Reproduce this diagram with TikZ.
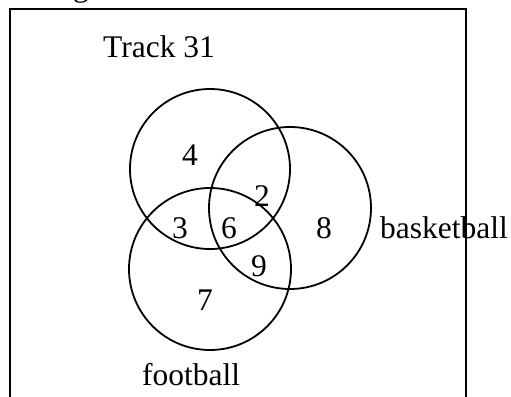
\documentclass[tikz,border=0pt]{standalone}
\usepackage{fontspec}
\setmainfont{Liberation Serif}
\begin{document}
\begin{tikzpicture}[x=1pt,y=-1pt,
  setcircle/.style={draw=black,line width=1.8pt},
  lbl/.style={font=\fontsize{31.5}{35}\selectfont,inner sep=0pt}]
\clip (0,0) rectangle (511,396);
\useasboundingbox (0,0) rectangle (511,396);
\fill[white] (0,0) rectangle (511,396);
\node[lbl,anchor=base] (topfrag) at (81,-3) {g};
\draw[line width=2pt] (10,420) -- (10,9) -- (466,9) -- (466,420);
\node[setcircle,circle,minimum size=160pt,inner sep=0pt] (track) at (210,169) {};
\node[setcircle,circle,minimum size=162pt,inner sep=0pt] (basket) at (290,208) {};
\node[setcircle,circle,minimum size=162pt,inner sep=0pt] (foot) at (210,269) {};
\node[lbl,anchor=west] (tracklbl) at (103,47) {Track 31};
\node[lbl,anchor=west] (basketlbl) at (380,228) {basketball};
\node[lbl,anchor=west] (footlbl) at (142,375) {football};
\node[lbl] (n4) at (190,155) {4};
\node[lbl] (n2) at (262,196) {2};
\node[lbl] (n3) at (180,228) {3};
\node[lbl] (n6) at (229,228) {6};
\node[lbl] (n8) at (324,228) {8};
\node[lbl] (n9) at (259,266) {9};
\node[lbl] (n7) at (205,300) {7};
\end{tikzpicture}
\end{document}
